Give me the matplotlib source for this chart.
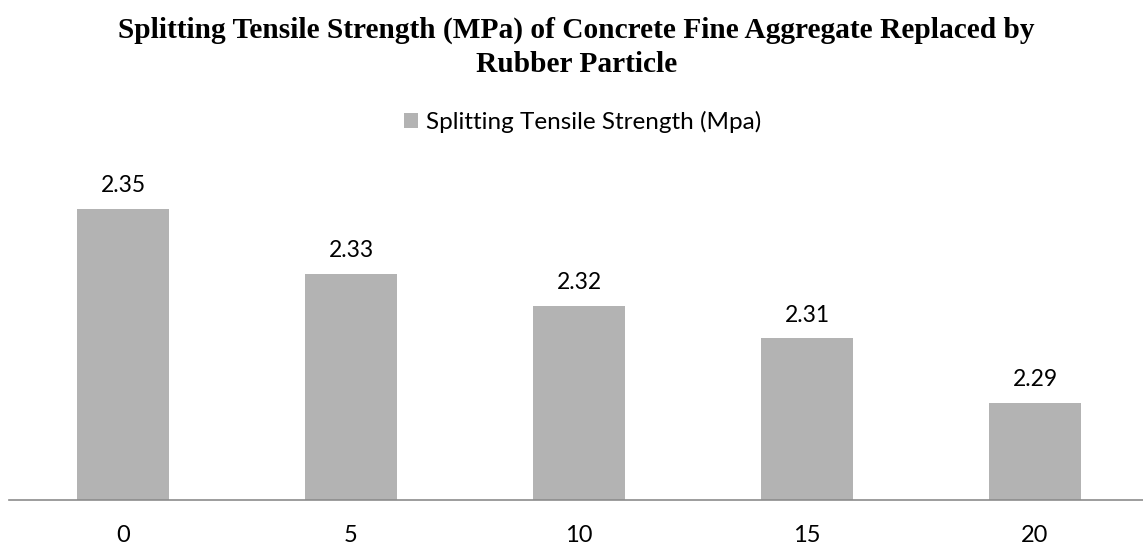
import numpy as np
import matplotlib.pyplot as plt

# replacement level (%) and splitting tensile strength (MPa)
categories = ["0", "5", "10", "15", "20"]
strength = [2.35, 2.33, 2.32, 2.31, 2.29]

bar_color = "#b3b3b3"
label_font = "Lato"

fig = plt.figure(figsize=(11.43, 5.46), dpi=100)
ax = fig.add_axes([9 / 1143, 46 / 546, 1140 / 1143, 323 / 546])

x = np.arange(len(categories))
bars = ax.bar(x, strength, width=0.4, color=bar_color,
              label="Splitting Tensile Strength (Mpa)", zorder=2)

for xi, v in zip(x, strength):
    ax.text(xi, v + 0.004, f"{v:.2f}", ha="center", va="bottom",
            fontsize=16.5, family=label_font, color="#000000")

ax.set_ylim(2.26, 2.36)
ax.set_xlim(-0.5, 4.5)
ax.set_xticks(x)
ax.set_xticklabels(categories, fontsize=17, family=label_font)
ax.tick_params(axis="x", length=0, pad=18)
ax.set_yticks([])

for side in ["top", "right", "left"]:
    ax.spines[side].set_visible(False)
ax.spines["bottom"].set_color("#8c8c8c")
ax.spines["bottom"].set_linewidth(1.2)

# two-line bold serif title
title_lines = ["Splitting Tensile Strength (MPa) of Concrete Fine Aggregate Replaced by",
               "Rubber Particle"]
for line, base in zip(title_lines, [38, 72]):
    fig.text(0.5 + 5 / 1143, 1 - base / 546, line, ha="center", va="baseline",
             fontsize=21.2, fontweight="bold", family="Liberation Serif")

fig.legend(handles=[bars], loc="center", bbox_to_anchor=(583 / 1143, 1 - 122 / 546),
           frameon=False, prop={"family": label_font, "size": 17.5},
           handlelength=0.55, handleheight=0.55, handletextpad=0.35)

fig.savefig("out.png", dpi=100)
